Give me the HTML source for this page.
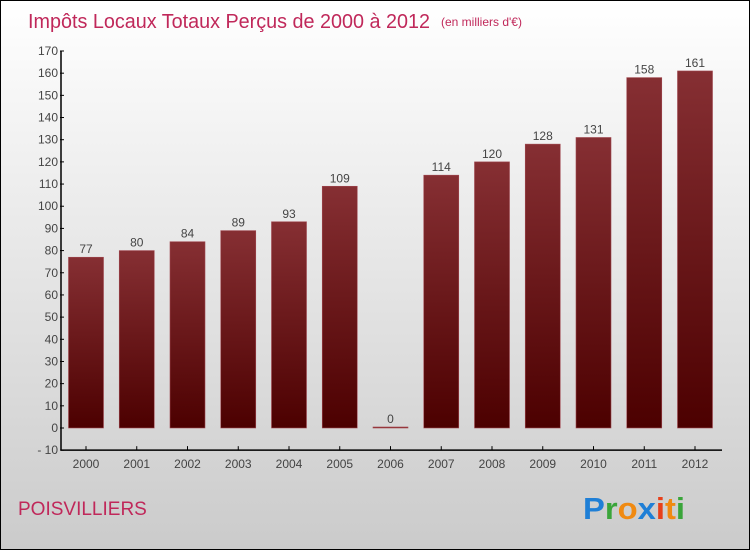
<!DOCTYPE html>
<html><head><meta charset="utf-8"><style>
html,body{margin:0;padding:0}
body{width:750px;height:550px;overflow:hidden;font-family:"Liberation Sans",sans-serif}
#wrap{position:relative;width:748px;height:548px;border:1px solid #000;background:linear-gradient(#ffffff,#cbcbcb)}
</style></head><body>
<div id="wrap">
<svg id="chart" width="748" height="548" style="position:absolute;left:0;top:0">
<text x="27" y="27" font-size="20" fill="#c0285a" textLength="402" lengthAdjust="spacingAndGlyphs">Impôts Locaux Totaux Perçus de 2000 à 2012</text>
<text x="440" y="25" font-size="12" fill="#c0285a">(en milliers d'€)</text>
<text x="17" y="514" font-size="19" fill="#c0285a">POISVILLIERS</text>
<g font-size="31" font-weight="bold" font-family="Liberation Sans, sans-serif">
<text x="582" y="518" textLength="102" lengthAdjust="spacingAndGlyphs"><tspan fill="#1f7fd6">P</tspan><tspan fill="#3aa53a">r</tspan><tspan fill="#f08a12">o</tspan><tspan fill="#1f7fd6">x</tspan><tspan fill="#e8401a">i</tspan><tspan fill="#f08a12">t</tspan><tspan fill="#3aa53a">i</tspan></text>
</g>
<defs><linearGradient id="bg" x1="0" y1="0" x2="0" y2="1"><stop offset="0" stop-color="#862f33"/><stop offset="1" stop-color="#4c0000"/></linearGradient></defs>
<g id="bars"></g><g id="axes"></g>
</svg>
</div>
<script>
const years=["2000","2001","2002","2003","2004","2005","2006","2007","2008","2009","2010","2011","2012"];
const values=[77,80,84,89,93,109,0,114,120,128,131,158,161];
const yTicks=[-10,0,10,20,30,40,50,60,70,80,90,100,110,120,130,140,150,160,170];
const NS="http://www.w3.org/2000/svg";
const y=v=>427-(v)*(377/170);
const x=i=>85+i*50.75;
function mk(t,a,p){const e=document.createElementNS(NS,t);for(const k in a)e.setAttribute(k,a[k]);p.appendChild(e);return e;}
const bars=document.getElementById('bars'),axes=document.getElementById('axes');
values.forEach((v,i)=>{
 const top=Math.min(y(v),y(0)-1),h=Math.max(y(0)-y(v),1);
 const r=mk('rect',{x:x(i)-17.5,y:top,width:35,height:h,fill:v>0?'url(#bg)':'#8a2020',stroke:'#a04850','stroke-width':0.6},bars);
 
 
 const t=mk('text',{x:x(i),y:top-4,'text-anchor':'middle','font-size':12,fill:'#444'},bars);
 t.textContent=v;
 
 
 const xt=mk('text',{x:x(i),y:467,'text-anchor':'middle','font-size':12,fill:'#444'},axes);
 xt.textContent=years[i];
 
 
 mk('line',{x1:x(i),x2:x(i),y1:y(-10)-4,y2:y(-10),stroke:'#000'},axes);
});
yTicks.forEach(v=>{
 mk('line',{x1:59,x2:63,y1:y(v),y2:y(v),stroke:'#000'},axes);
 const t=mk('text',{x:57,y:y(v)+4,'text-anchor':'end','font-size':12,fill:'#444'},axes);
 t.textContent=v<0?'- '+(-v):v;
 
 
});
const ya=mk('line',{x1:60,x2:60,y1:y(170),y2:y(-10),stroke:'#000','stroke-width':1.5},axes);


const xa=mk('line',{x1:60,x2:721,y1:y(-10),y2:y(-10),stroke:'#000','stroke-width':1.5},axes);


</script>
</body></html>
